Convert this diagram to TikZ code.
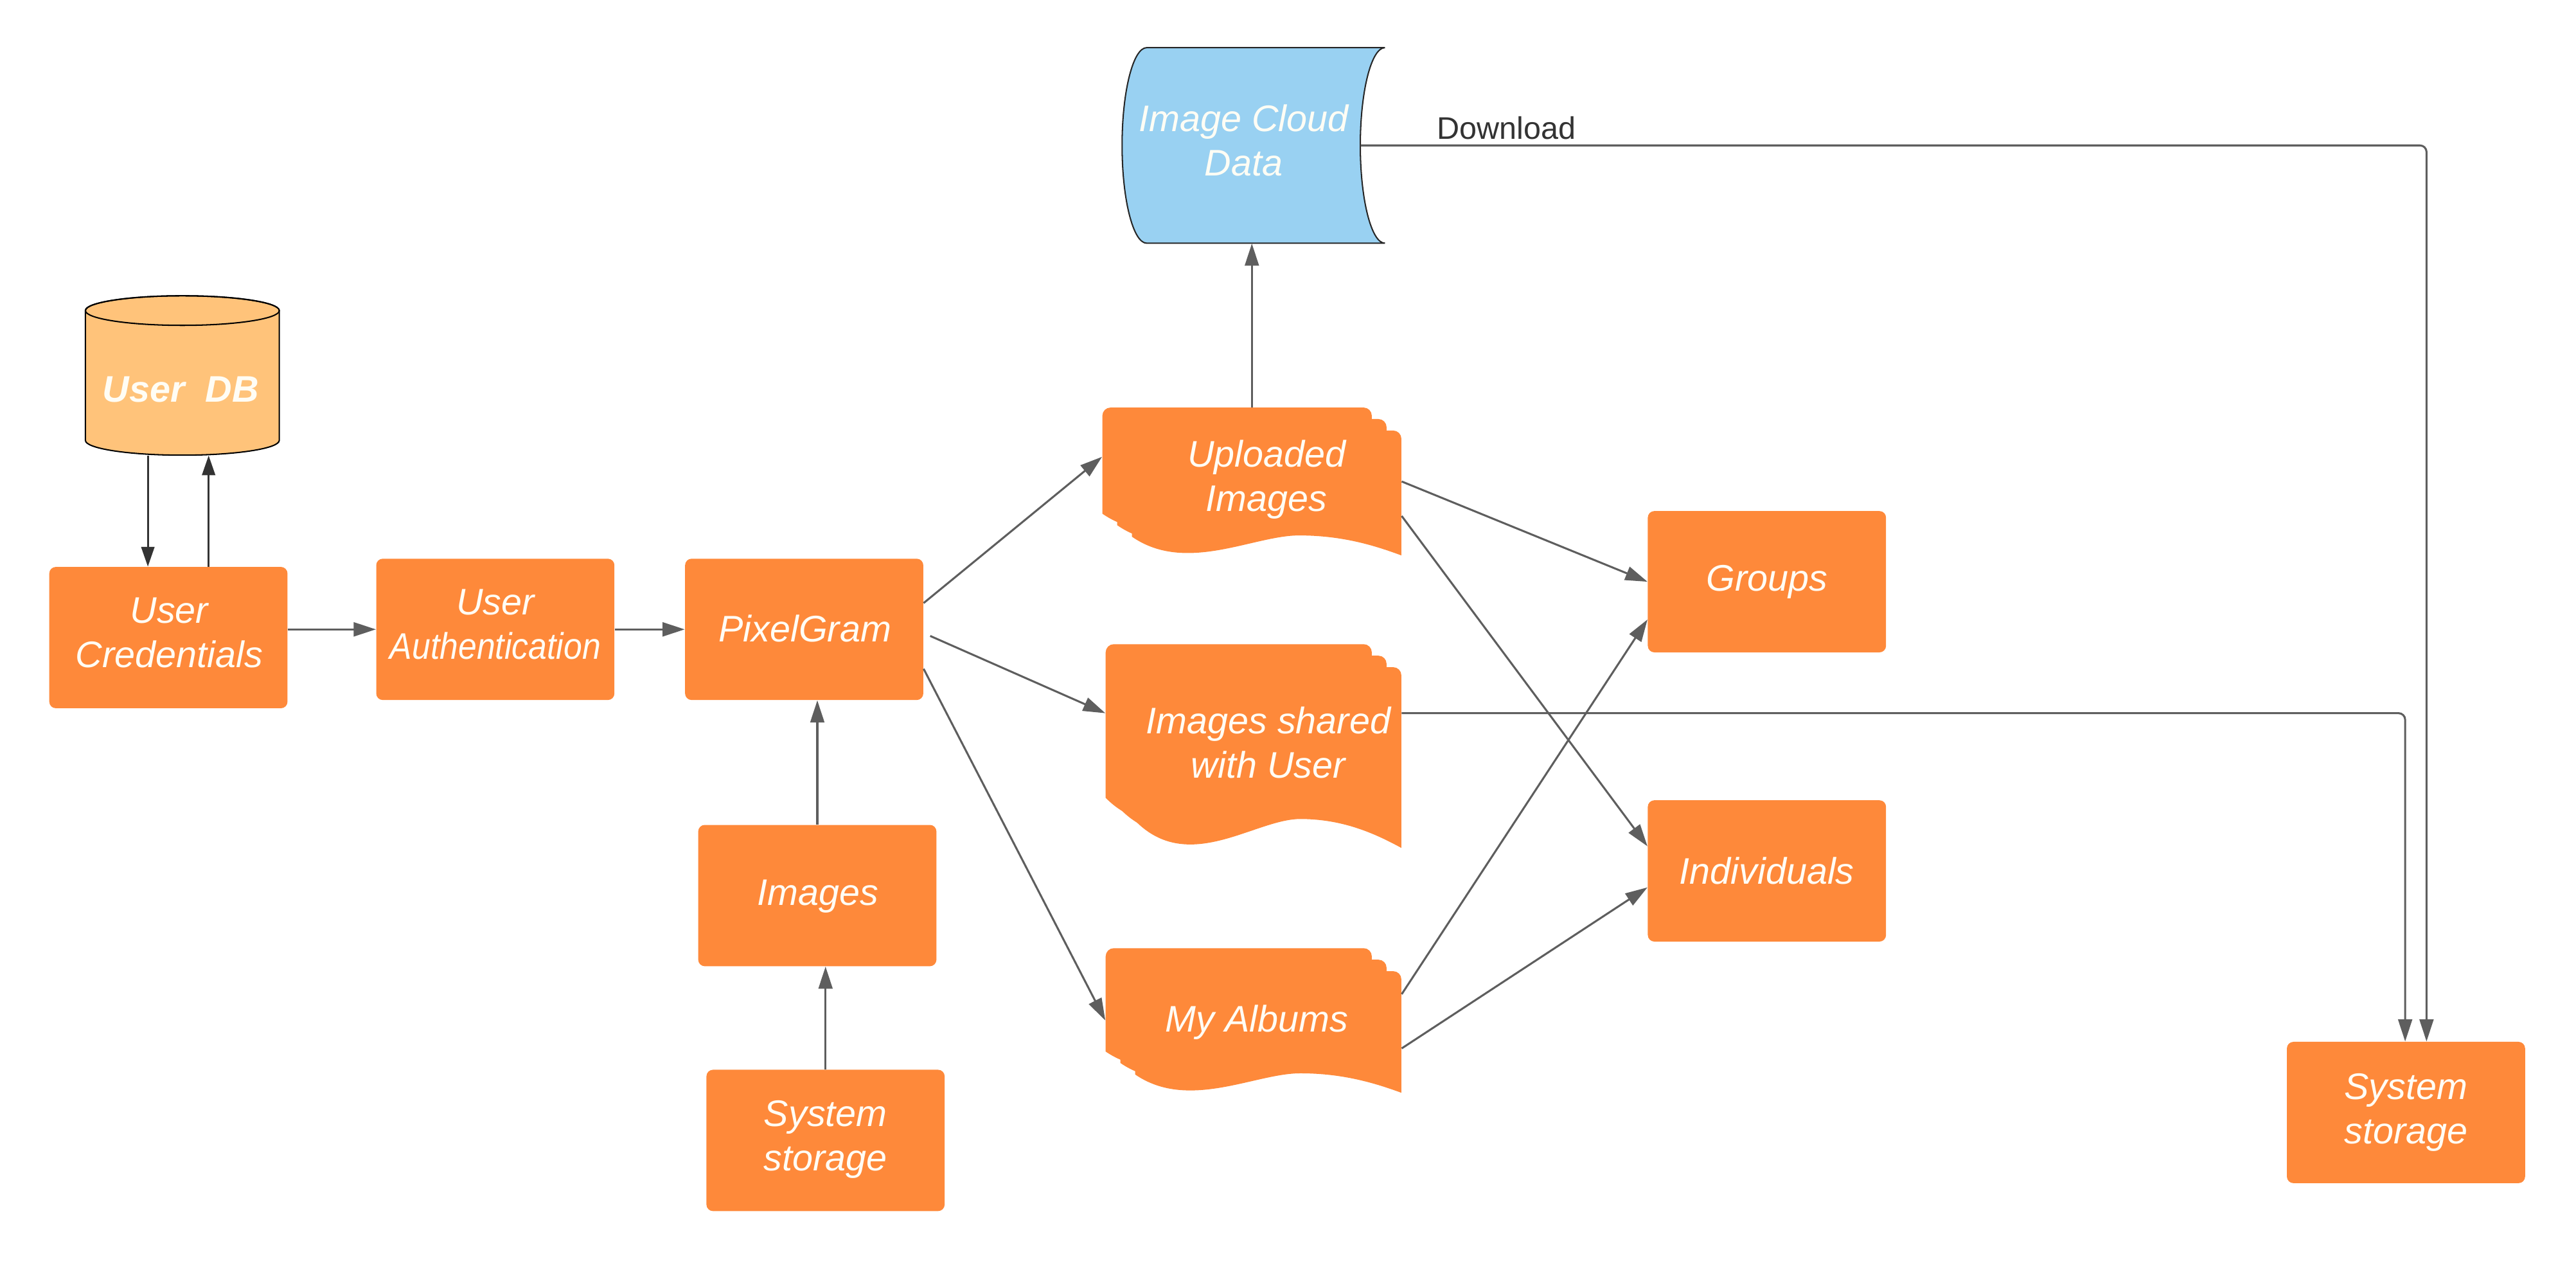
\documentclass[tikz,border=0pt]{standalone}
\usepackage{fontspec}
\usepackage{graphicx}
\newfontfamily\lib{Liberation Sans}
\usetikzlibrary{arrows.meta,calc}
\definecolor{orfill}{RGB}{254,137,58}
\definecolor{dbfill}{RGB}{255,195,122}
\definecolor{cloudfill}{RGB}{153,209,242}
\definecolor{linegray}{RGB}{94,94,94}
\definecolor{darkline}{RGB}{51,51,51}
\definecolor{txt}{RGB}{255,253,245}
\newcommand\docshape[4]{%
  \pgfmathsetmacro\mdx{#1}\pgfmathsetmacro\mdy{#2}%
  \begin{scope}[shift={(\mdx,-\mdy)}]
    \fill[orfill] (0,-0.85*#4) -- (0,-5) arc[start angle=180,end angle=90,radius=5]
      -- (#3-5,0) arc[start angle=90,end angle=0,radius=5] -- (#3,-#4)
      .. controls (0.9*#3,-0.92*#4) and (0.78*#3,-0.84*#4) .. (0.62*#3,-0.84*#4)
      .. controls (0.45*#3,-0.84*#4) and (0.2*#3,-1.15*#4) .. (0,-0.85*#4) -- cycle;
  \end{scope}}
\newcommand\multidoc[4]{\docshape{#1}{#2}{#3}{#4}\docshape{#1+9}{#2+7}{#3}{#4}\docshape{#1+18}{#2+14}{#3}{#4}}
\begin{document}
\begin{tikzpicture}[x=1pt,y=1pt,
  lbl/.style={text=txt,font=\lib\itshape\fontsize{22.5}{27}\selectfont,align=center,inner sep=0pt},
  box/.style={fill=orfill,rounded corners=4pt,minimum width=145pt,minimum height=86pt,inner sep=0pt},
  bbox/.style={inner sep=0pt,draw=none},
  arr/.style={draw=linegray,line width=1.2pt,-{Triangle[length=13.5pt,width=8.5pt]}},
  darr/.style={draw=darkline,line width=1.1pt,-{Triangle[length=12pt,width=8pt]}},
  dl/.style={text=darkline,font=\lib\fontsize{19}{22}\selectfont,inner sep=0pt}]
\useasboundingbox (0,0) rectangle (1568,-767);
% User DB cylinder
\filldraw[fill=dbfill,draw=black,line width=0.8pt] (52,-189) -- (52,-268)
  arc[start angle=180,end angle=360,x radius=59,y radius=9] -- (170,-189)
  arc[start angle=0,end angle=180,x radius=59,y radius=9] -- cycle;
\draw[black,line width=0.8pt] (111,-189) ellipse[x radius=59,y radius=9];
\node[bbox,minimum width=118pt,minimum height=97pt] (db) at (111,-228.5) {};
\node[lbl] (dbt) at (110,-237) {\bfseries User\ \ DB};
% Image Cloud Data
\filldraw[fill=cloudfill,draw=black!85,line width=0.8pt] (698,-29) -- (843,-29)
  arc[start angle=90,end angle=270,x radius=15,y radius=59.5] -- (698,-148)
  arc[start angle=270,end angle=90,x radius=15,y radius=59.5] -- cycle;
\node[bbox,minimum width=160pt,minimum height=119pt] (cloud) at (763,-88.5) {};
\node[lbl] (cloudt) at (757,-85.5) {Image Cloud\\Data};
% multi documents
\multidoc{671}{248}{164}{76}
\multidoc{673}{392}{162}{110}
\multidoc{673}{577}{162}{74}
\node[bbox,minimum width=182pt,minimum height=90pt] (up) at (762,-293) {};
\node[bbox,minimum width=180pt,minimum height=124pt] (sh) at (763,-454) {};
\node[bbox,minimum width=180pt,minimum height=88pt] (al) at (763,-621) {};
\node[lbl] (upt) at (771,-292) {Uploaded\\Images};
\node[lbl] (sht) at (772,-452) {Images shared\\with User};
\node[lbl] (alt) at (765,-622) {My Albums};
% boxes
\node[box] (cred) at (102.5,-388) {};
\node[box] (auth) at (301.5,-383) {};
\node[box] (pg) at (489.5,-383) {};
\node[box] (img) at (497.5,-545) {};
\node[box] (ss1) at (502.5,-694) {};
\node[box] (groups) at (1075.5,-354) {};
\node[box] (indiv) at (1075.5,-530) {};
\node[box] (ss2) at (1464.5,-677) {};
\node[lbl] (credt) at (103,-385) {User\\Credentials};
\node[lbl] (autht) at (301.5,-380) {User\\\scalebox{0.9}[1]{Authentication}};
\node[lbl] (pgt) at (490,-382.5) {PixelGram};
\node[lbl] (imgt) at (498,-545.5) {Images};
\node[lbl] (ss1t) at (502.5,-693.5) {System\\storage};
\node[lbl] (groupst) at (1075.5,-354) {Groups};
\node[lbl] (indivt) at (1075.5,-530) {Individuals};
\node[lbl] (ss2t) at (1464.5,-677) {System\\storage};
% connectors
\coordinate (xa) at (90,0);
\coordinate (xb) at (127,0);
\draw[darr] (db.south -| xa) -- (cred.north -| xa);
\draw[darr] (cred.north -| xb) -- (db.south -| xb);
\draw[arr] (cred.east |- auth.west) -- (auth.west);
\draw[arr] (auth.east) -- (pg.west);
\draw[arr] (img.north) -- (img.north |- pg.south);
\draw[arr] (ss1.north) -- (ss1.north |- img.south);
\draw[arr] ([yshift=16pt]pg.east) -- ([yshift=15pt]up.west);
\draw[arr] ([xshift=4pt,yshift=-4pt]pg.east) -- ([yshift=20pt]sh.west);
\draw[arr] ([yshift=-24pt]pg.east) -- (al.west);
\draw[arr] (up.north) -- (up.north |- cloud.south);
\draw[arr] (up.east) -- (groups.west);
\draw[arr] ([yshift=-21pt]up.east) -- ([yshift=15pt]indiv.west);
\draw[arr] ([yshift=16pt]al.east) -- ([yshift=-23pt]groups.west);
\draw[arr] ([yshift=-17pt]al.east) -- ([yshift=-10pt]indiv.west);
\draw[arr,rounded corners=4pt] ([xshift=-15pt]cloud.east) -| ([xshift=12.5pt]ss2.north);
\draw[arr,rounded corners=4pt] ([yshift=20pt]sh.east) -| ([xshift=-0.5pt]ss2.north);
\node[dl] (dlabel) at (917,-78) {Download};
\end{tikzpicture}
\end{document}
